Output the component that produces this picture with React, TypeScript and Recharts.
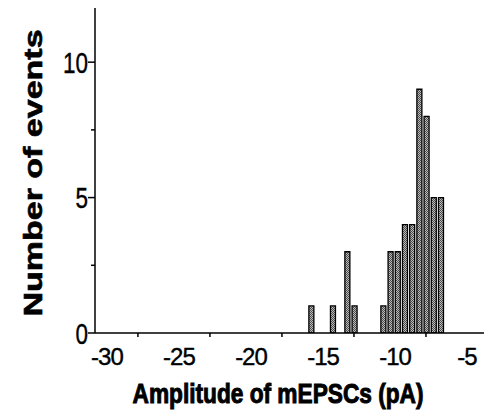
import React from "react"
import { BarChart, Bar, XAxis, YAxis, Label } from "recharts"

// histogram bins (bin centre, pA) and counts
const binCenters = [-15.8, -14.3, -13.3, -12.8, -10.8, -10.3, -9.8, -9.3, -8.8, -8.3, -7.8, -7.3, -6.8]
const counts = [1, 1, 3, 1, 1, 3, 3, 4, 4, 9, 8, 5, 5]

const xLabelTicks = [-30, -25, -20, -15, -10, -5]
const xMarkTicks = [-27.85, -22.85, -17.85, -12.85, -7.85]
const yLabelTicks = [0, 5, 10]
const yMinorTicks = [2.5, 7.5]

const data = binCenters.map((x, i) => ({ x, n: counts[i] }))

const font = "'Liberation Sans', Arial, Helvetica, sans-serif"

function XTick(props: any) {
  const { x, y, payload } = props
  const v = payload.value
  if (xLabelTicks.includes(v)) {
    return (
      <text
        x={x}
        y={y + 32}
        textAnchor="middle"
        fontFamily={font}
        fontSize={24}
        letterSpacing={-1}
        fill="#000"
        stroke="#000"
        strokeWidth={0.4}
      >
        {v}
      </text>
    )
  }
  return <line x1={x} x2={x} y1={y} y2={y + 4} stroke="#000" strokeWidth={1.5} />
}

function YTick(props: any) {
  const { x, y, payload } = props
  const v = payload.value
  if (yLabelTicks.includes(v)) {
    return (
      <g>
        <line x1={x - 7} x2={x} y1={y} y2={y} stroke="#000" strokeWidth={1.5} />
        <text
          transform={`translate(${x - 7},${y + 10.5}) scale(0.75,1)`}
          textAnchor="end"
          fontFamily={font}
          fontSize={30}
          fill="#000"
          stroke="#000"
          strokeWidth={0.4}
        >
          {v}
        </text>
      </g>
    )
  }
  return <line x1={x - 4} x2={x} y1={y} y2={y} stroke="#000" strokeWidth={1.5} />
}

export default function App() {
  return (
    <div style={{ position: "absolute", left: 0, top: 0, background: "#fff" }}>
      <BarChart width={487} height={420} data={data} margin={{ top: 8, right: 3, left: 0, bottom: 0 }}>
        <defs>
          <pattern id="stipple" width={2} height={2} patternUnits="userSpaceOnUse">
            <rect width={2} height={2} fill="#bdbdbd" />
            <rect width={1} height={1} fill="#4a4a4a" />
            <rect x={1} y={1} width={1} height={1} fill="#4a4a4a" />
          </pattern>
        </defs>
        <XAxis
          dataKey="x"
          type="number"
          domain={[-30.83, -3.82]}
          allowDataOverflow
          ticks={[...xLabelTicks, ...xMarkTicks].sort((a, b) => a - b)}
          interval={0}
          tickSize={0}
          tickMargin={0}
          tickLine={false}
          tick={<XTick />}
          height={87}
          axisLine={{ stroke: "#000", strokeWidth: 1.5 }}
        >
          <Label
            content={() => (
              <text
                transform="translate(278,403) scale(0.81,1)"
                textAnchor="middle"
                fontFamily={font}
                fontWeight="bold"
                fontSize={28}
                fill="#000"
                stroke="#000"
                strokeWidth={1}
              >
                Amplitude of mEPSCs (pA)
              </text>
            )}
          />
        </XAxis>
        <YAxis
          type="number"
          domain={[0, 12]}
          allowDataOverflow
          ticks={[...yLabelTicks, ...yMinorTicks].sort((a, b) => a - b)}
          interval={0}
          tickSize={0}
          tickMargin={0}
          tickLine={false}
          tick={<YTick />}
          width={95}
          axisLine={{ stroke: "#000", strokeWidth: 1.5 }}
        >
          <Label
            content={() => (
              <text
                transform="translate(32,173) scale(0.78,1) rotate(-90)"
                textAnchor="middle"
                dominantBaseline="central"
                fontFamily={font}
                fontWeight="bold"
                fontSize={34}
                fill="#000"
                stroke="#000"
                strokeWidth={0.8}
              >
                Number of events
              </text>
            )}
          />
        </YAxis>
        <Bar dataKey="n" barSize={5} fill="url(#stipple)" stroke="#000" strokeWidth={1.3} isAnimationActive={false} />
      </BarChart>
    </div>
  )
}
